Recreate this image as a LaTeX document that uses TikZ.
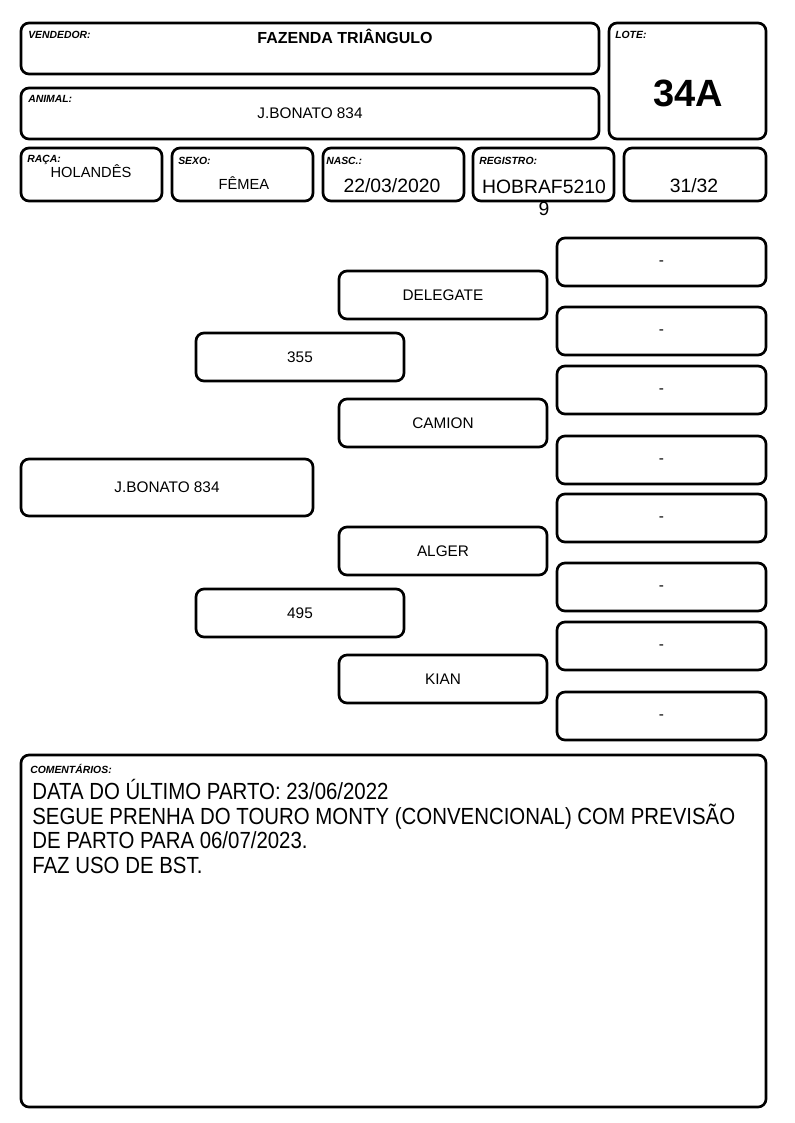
\documentclass[tikz,border=0pt]{standalone}
\usepackage{fontspec}
\setmainfont{Liberation Sans}
\newfontfamily\narrowfont[FakeStretch=0.875]{Liberation Sans}
\usetikzlibrary{fit}

\tikzset{
  cardbox/.style={draw, line width=2pt, rounded corners=6pt, inner sep=0pt},
  tag/.style={anchor=north west, inner sep=0pt,
    font=\fontsize{7.8}{8}\selectfont\bfseries\itshape},
  entry/.style={anchor=base, inner sep=0pt, font=\fontsize{11}{13}\selectfont},
  bigentry/.style={anchor=base, inner sep=0pt, font=\fontsize{14.5}{16.5}\selectfont},
  pedbox/.style={cardbox, minimum width=156pt, minimum height=36pt,
    font=\fontsize{11.5}{13}\selectfont},
  ggbox/.style={pedbox, minimum width=156.75pt, text height=0.5em, text depth=0pt},
}

\begin{document}
\begin{tikzpicture}[x=0.75pt, y=-0.75pt]
\useasboundingbox (0,0) rectangle (794,1123);
% --- Header: seller, animal and lot ---
\node[cardbox, fit={(21,23) (599,74)}] (vendedor) {};
\node[tag] (vendedortag) at (28,31) {VENDEDOR:};
\node[anchor=base, inner sep=0pt, font=\fontsize{12}{14}\selectfont\bfseries]
  (vendedorval) at (345,44) {FAZENDA TRIÂNGULO};
\node[cardbox, fit={(21,88) (599,139)}] (animal) {};
\node[tag] (animaltag) at (28,95) {ANIMAL:};
\node[entry, font=\fontsize{11.5}{13}\selectfont] (animalval) at (310,119)
  {J.BONATO 834};
\node[cardbox, fit={(609,23) (766,139)}] (lote) {};
\node[tag] (lotetag) at (615,31) {LOTE:};
\node[anchor=base, inner sep=0pt, font=\fontsize{28.5}{30}\selectfont\bfseries]
  (loteval) at (688,107) {34A};

% --- Data row ---
\node[cardbox, fit={(21,148) (162,201)}] (raca) {};
\node[tag] (racatag) at (27,155) {RAÇA:};
\node[entry] (racaval) at (91,178) {HOLANDÊS};
\node[cardbox, fit={(172,148) (313,201)}] (sexo) {};
\node[tag] (sexotag) at (178,157) {SEXO:};
\node[entry] (sexoval) at (244,190) {FÊMEA};
\node[cardbox, fit={(323,148) (464,201)}] (nasc) {};
\node[tag] (nasctag) at (326,157) {NASC.:};
\node[bigentry] (nascval) at (392,193) {22/03/2020};
\node[cardbox, fit={(473,148) (614,201)}] (registro) {};
\node[tag] (registrotag) at (479,157) {REGISTRO:};
% register number wraps out of its box
\node[bigentry, align=center] (registroval) at (544,215)
  {HOBRAF5210\\9};
\node[cardbox, fit={(624,148) (766,201)}] (grau) {};
\node[bigentry] (grauval) at (694,193) {31/32};

% --- Pedigree ---
\node[pedbox, minimum width=219pt, minimum height=42.75pt] (self)
  at (167,487.5) {J.BONATO 834};
\node[pedbox] (sire) at (300,357) {355};
\node[pedbox] (dam) at (300,613) {495};
\node[pedbox] (siresire) at (443,295) {DELEGATE};
\node[pedbox] (siredam) at (443,423) {CAMION};
\node[pedbox] (damsire) at (443,551) {ALGER};
\node[pedbox] (damdam) at (443,679) {KIAN};
% great-grandparents (empty)
\node[ggbox] (gg1) at (661.5,262) {-};
\node[ggbox] (gg2) at (661.5,331) {-};
\node[ggbox] (gg3) at (661.5,390) {-};
\node[ggbox] (gg4) at (661.5,460) {-};
\node[ggbox] (gg5) at (661.5,518) {-};
\node[ggbox] (gg6) at (661.5,587) {-};
\node[ggbox] (gg7) at (661.5,646) {-};
\node[ggbox] (gg8) at (661.5,716) {-};

% --- Comments ---
\node[cardbox, fit={(21,755) (766,1107)}] (coment) {};
\node[tag] (comenttag) at (30,764) {COMENTÁRIOS:};
\node[anchor=base west, inner sep=0pt, align=left,
  font=\narrowfont\fontsize{17.5}{18.3}\selectfont] (comentval) at (32,873)
  {DATA DO ÚLTIMO PARTO: 23/06/2022\\
   SEGUE PRENHA DO TOURO MONTY (CONVENCIONAL) COM PREVISÃO\\
   DE PARTO PARA 06/07/2023.\\
   FAZ USO DE BST.};
\end{tikzpicture}
\end{document}
